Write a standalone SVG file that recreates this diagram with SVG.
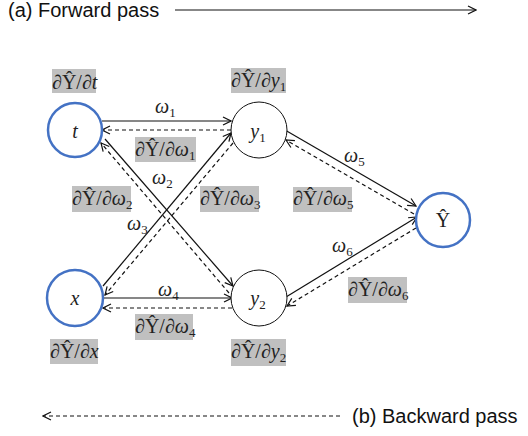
<svg xmlns="http://www.w3.org/2000/svg" width="528" height="436" viewBox="0 0 528 436">
<style>
.sans{font-family:"Liberation Sans",Arial,sans-serif;font-size:20px;fill:#111}
.m{font-family:"Liberation Serif","Times New Roman",serif;font-size:20px;fill:#222}
.w{font-family:"Liberation Serif","Times New Roman",serif;font-size:20px;font-style:italic;fill:#222}
.sub{font-size:13px;font-style:normal}
.box{fill:#c0c0c0}
.solid{stroke:#111;stroke-width:1.2;fill:none;marker-end:url(#ah)}
.dash{stroke:#111;stroke-width:1.2;fill:none;stroke-dasharray:4 3;marker-end:url(#ah)}
.blue{fill:#fff;stroke:#4472c4;stroke-width:2.5}
.plain{fill:#fff;stroke:#111;stroke-width:1}
</style>
<defs>
<marker id="ah" viewBox="0 0 10 10" refX="9" refY="5" markerWidth="10" markerHeight="10" markerUnits="userSpaceOnUse" orient="auto">
<path d="M1,1 L9,5 L1,9" fill="none" stroke="#111" stroke-width="1.2"/>
</marker>
</defs>
<rect width="528" height="436" fill="#fff"/>

<g id="legend">
<text class="sans" x="8" y="17">(a) Forward pass</text>
<line class="solid" x1="175" y1="10" x2="476" y2="10"/>
<line class="dash" x1="340" y1="416" x2="43" y2="416"/>
<text class="sans" x="352" y="423">(b) Backward pass</text>
</g>

<g id="connectors">
<line class="solid" x1="102" y1="121" x2="231" y2="121"/>
<line class="dash" x1="231" y1="130" x2="102" y2="130"/>
<line class="solid" x1="103" y1="298" x2="232" y2="298"/>
<line class="dash" x1="232" y1="308" x2="103" y2="308"/>
<line class="solid" x1="105" y1="139" x2="233" y2="286"/>
<line class="dash" x1="229" y1="293" x2="101" y2="143"/>
<line class="solid" x1="103" y1="286" x2="231" y2="133"/>
<line class="dash" x1="233" y1="143" x2="105" y2="295"/>
<line class="solid" x1="285" y1="130" x2="416" y2="206"/>
<line class="dash" x1="414" y1="214" x2="286" y2="140"/>
<line class="solid" x1="286" y1="297" x2="417" y2="217"/>
<line class="dash" x1="416" y1="228" x2="287" y2="306"/>
</g>

<g id="node-t">
<circle class="blue" cx="75" cy="130" r="27"/>
<text class="w" x="75" y="138" text-anchor="middle">t</text>
</g>
<g id="node-x">
<circle class="blue" cx="75" cy="298" r="28"/>
<text class="w" x="75" y="305" text-anchor="middle">x</text>
</g>
<g id="node-y1">
<circle class="plain" cx="259" cy="130" r="28"/>
<text class="w" x="258" y="138" text-anchor="middle">y<tspan class="sub" dy="4">1</tspan></text>
</g>
<g id="node-y2">
<circle class="plain" cx="259" cy="298" r="28"/>
<text class="w" x="258" y="305" text-anchor="middle">y<tspan class="sub" dy="4">2</tspan></text>
</g>
<g id="node-Y">
<circle class="blue" cx="443" cy="220" r="27"/>
<text class="m" x="443" y="227" text-anchor="middle">Ŷ</text>
</g>

<g id="weights">
<text class="w" x="155" y="113">ω<tspan class="sub" dy="4">1</tspan></text>
<text class="w" x="152" y="184">ω<tspan class="sub" dy="4">2</tspan></text>
<text class="w" x="127" y="230">ω<tspan class="sub" dy="4">3</tspan></text>
<text class="w" x="158" y="296">ω<tspan class="sub" dy="4">4</tspan></text>
<text class="w" x="344" y="162">ω<tspan class="sub" dy="4">5</tspan></text>
<text class="w" x="332" y="252">ω<tspan class="sub" dy="4">6</tspan></text>
</g>

<g id="grad-t">
<rect class="box" x="52" y="69" width="44" height="24"/>
<text class="m" x="52" y="89">∂Ŷ/∂<tspan font-style="italic">t</tspan></text>
</g>
<g id="grad-y1">
<rect class="box" x="231" y="68" width="55" height="25"/>
<text class="m" x="231" y="87">∂Ŷ/∂<tspan font-style="italic">y</tspan><tspan class="sub" dy="4">1</tspan></text>
</g>
<g id="grad-w1">
<rect class="box" x="135" y="137" width="61" height="25"/>
<text class="m" x="135" y="156">∂Ŷ/∂<tspan font-style="italic">ω</tspan><tspan class="sub" dy="4">1</tspan></text>
</g>
<g id="grad-w2">
<rect class="box" x="72" y="186" width="59" height="26"/>
<text class="m" x="72" y="205">∂Ŷ/∂<tspan font-style="italic">ω</tspan><tspan class="sub" dy="4">2</tspan></text>
</g>
<g id="grad-w3">
<rect class="box" x="200" y="186" width="59" height="26"/>
<text class="m" x="200" y="205">∂Ŷ/∂<tspan font-style="italic">ω</tspan><tspan class="sub" dy="4">3</tspan></text>
</g>
<g id="grad-w5">
<rect class="box" x="293" y="187" width="59" height="25"/>
<text class="m" x="293" y="205">∂Ŷ/∂<tspan font-style="italic">ω</tspan><tspan class="sub" dy="4">5</tspan></text>
</g>
<g id="grad-w6">
<rect class="box" x="348" y="277" width="59" height="26"/>
<text class="m" x="348" y="296">∂Ŷ/∂<tspan font-style="italic">ω</tspan><tspan class="sub" dy="4">6</tspan></text>
</g>
<g id="grad-w4">
<rect class="box" x="135" y="314" width="58" height="26"/>
<text class="m" x="135" y="333">∂Ŷ/∂<tspan font-style="italic">ω</tspan><tspan class="sub" dy="4">4</tspan></text>
</g>
<g id="grad-x">
<rect class="box" x="50" y="339" width="48" height="25"/>
<text class="m" x="50" y="358">∂Ŷ/∂<tspan font-style="italic">x</tspan></text>
</g>
<g id="grad-y2">
<rect class="box" x="231" y="339" width="55" height="27"/>
<text class="m" x="231" y="358">∂Ŷ/∂<tspan font-style="italic">y</tspan><tspan class="sub" dy="4">2</tspan></text>
</g>
</svg>
